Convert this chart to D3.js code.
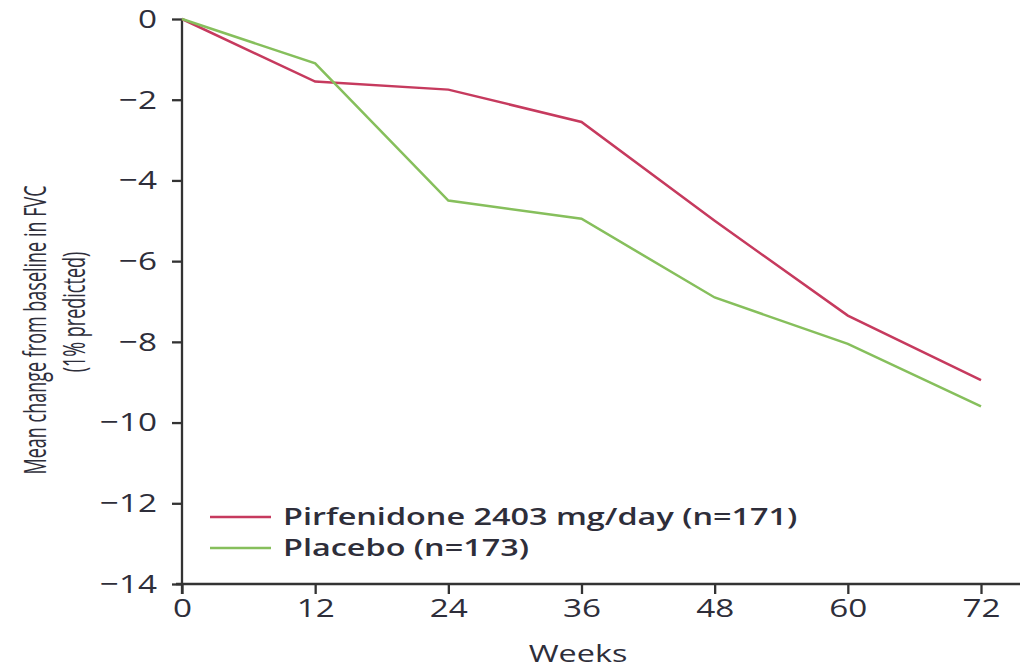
<!DOCTYPE html>
<html lang="en">
<head>
    <meta charset="UTF-8">
    <title>Mean change from baseline in FVC</title>
    <script src="https://cdn.jsdelivr.net/npm/d3@7/dist/d3.min.js"></script>
    <style>
        body { margin: 0; background: #fff; }
        svg text { font-family: "Open Sans", "DejaVu Sans", sans-serif; fill: #2e2e3a; }
        .axis path, .axis line { stroke: #333; stroke-width: 2.3px; }
    </style>
</head>
<body>
<div id="chart"></div>
<script>
// data
const weeks = [0, 12, 24, 36, 48, 60, 72];
const pirfenidone = [0, -1.55, -1.75, -2.55, -5.0, -7.35, -8.95];
const placebo = [0, -1.1, -4.5, -4.95, -6.9, -8.05, -9.6];
const yTicks = [0, -2, -4, -6, -8, -10, -12, -14];
const seriesNames = ["Pirfenidone 2403 mg/day (n=171)", "Placebo (n=173)"];
const seriesColors = ["#c63a5e", "#86bf5c"];

const width = 1027, height = 671;
const margin = { top: 19, right: 46, bottom: 87, left: 182 };
const stretch = 1.28; // the picture's lettering is wide

const svg = d3.select("#chart").append("svg")
    .attr("width", width)
    .attr("height", height);

const x = d3.scaleLinear()
    .domain([0, 72])
    .range([margin.left, 981]);
const y = d3.scaleLinear()
    .domain([-14, 0])
    .range([height - margin.bottom, margin.top]);

// x axis, the line runs on past 72
const xAxis = svg.append("g")
    .attr("class", "axis")
    .attr("transform", `translate(0, ${y(-14)})`)
    .call(d3.axisBottom(x).tickValues(weeks).tickSize(10).tickSizeOuter(0).tickPadding(5));
xAxis.select(".domain").attr("d", `M${margin.left - 6},0H${width - 7}`);
xAxis.selectAll("text")
    .style("font-size", "26px")
    .attr("transform", `scale(${stretch},1)`);

const yAxis = svg.append("g")
    .attr("class", "axis")
    .attr("transform", `translate(${margin.left}, 0)`)
    .call(d3.axisLeft(y).tickValues(yTicks).tickSize(10).tickSizeOuter(0)
        .tickFormat(d => d < 0 ? "\u2212" + Math.abs(d) : d));
yAxis.select(".domain").attr("d", `M0,${y(0)}V${y(-14) + 10}`);
yAxis.selectAll("text")
    .style("font-size", "26px")
    .attr("x", -25 / stretch)
    .attr("transform", `scale(${stretch},1)`);

// axis titles
svg.append("text")
    .attr("transform", "translate(578, 662) scale(1.35,1)")
    .attr("text-anchor", "middle")
    .style("font-size", "24px")
    .text("Weeks");

svg.append("text")
    .attr("transform", "translate(46, 330) rotate(-90) scale(0.8,1.4)")
    .attr("text-anchor", "middle")
    .style("font-size", "22.5px")
    .text("Mean change from baseline in FVC");
svg.append("text")
    .attr("transform", "translate(85, 312) rotate(-90) scale(0.8,1.4)")
    .attr("text-anchor", "middle")
    .style("font-size", "22.5px")
    .text("(1% predicted)");

// lines
const line = d3.line()
    .x((d, i) => x(weeks[i]))
    .y(d => y(d));

[pirfenidone, placebo].forEach((vals, i) => {
    svg.append("path")
        .datum(vals)
        .attr("fill", "none")
        .attr("stroke", seriesColors[i])
        .attr("stroke-width", 2.5)
        .attr("d", line);
});

// legend
const legend = svg.append("g").attr("transform", "translate(210, 517)");
seriesNames.forEach((name, i) => {
    const g = legend.append("g").attr("transform", `translate(0, ${i * 31})`);
    g.append("line")
        .attr("x1", 0).attr("x2", 61)
        .attr("stroke", seriesColors[i])
        .attr("stroke-width", 2.5);
    g.append("text")
        .attr("transform", "translate(73, 0) scale(1.35,1)")
        .attr("dy", "0.35em")
        .style("font-size", "24px")
        .style("font-weight", 600)
        .text(name);
});
</script>
</body>
</html>
